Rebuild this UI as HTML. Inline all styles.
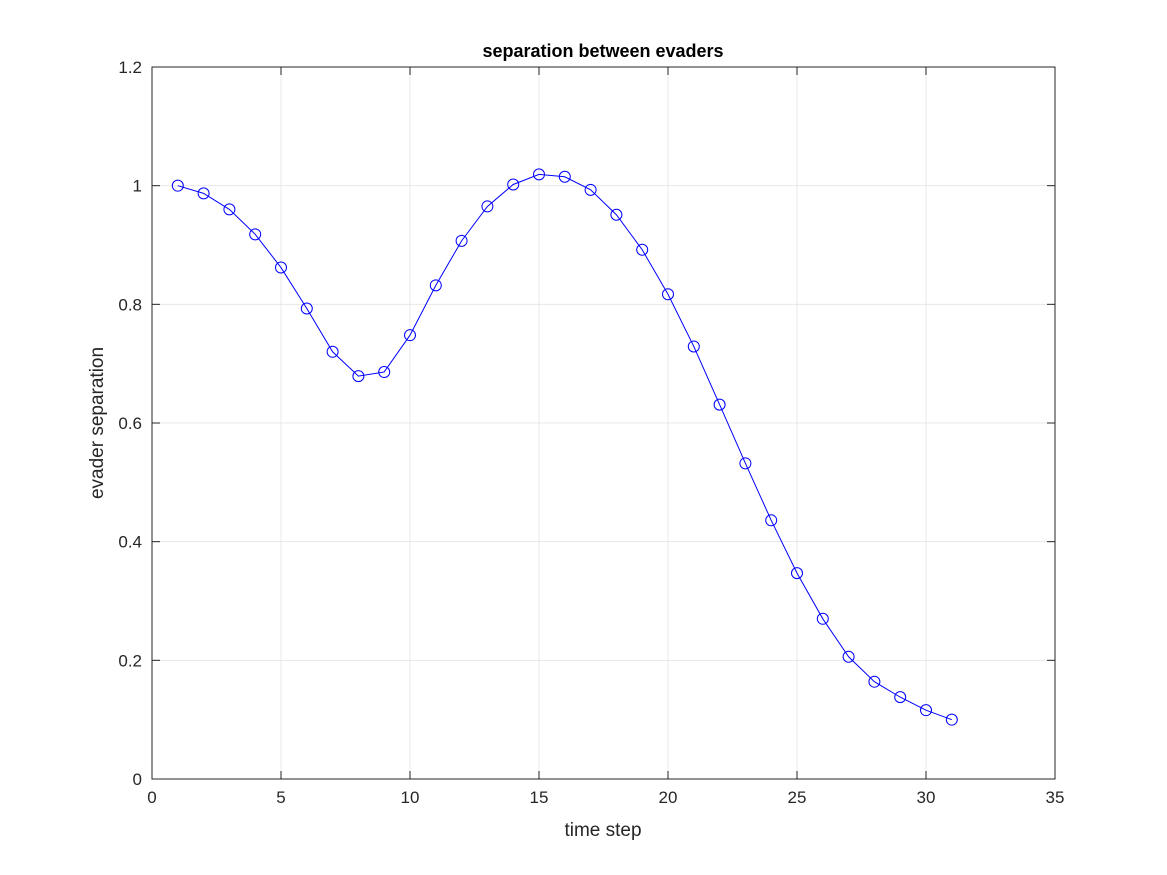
<!DOCTYPE html>
<html><head><meta charset="utf-8"><style>
body{margin:0;background:#fff;}
svg{display:block;font-family:"Liberation Sans",sans-serif;}
</style></head><body>
<svg id="chart" width="1167" height="875">
<rect x="0" y="0" width="1167" height="875" fill="#fff"/>
<g id="grid"></g>
<g id="ticks"></g>
<rect x="152" y="67" width="903" height="712" fill="none" stroke="#262626" stroke-width="1"/>
<g id="series"></g>
<text x="603" y="57" text-anchor="middle" font-size="18" font-weight="bold" fill="#000">separation between evaders</text>
<text x="603" y="836" text-anchor="middle" font-size="19" fill="#262626">time step</text>
<text transform="translate(103,423) rotate(-90)" text-anchor="middle" font-size="19" fill="#262626">evader separation</text>
</svg>
<script>
const steps=[1,2,3,4,5,6,7,8,9,10,11,12,13,14,15,16,17,18,19,20,21,22,23,24,25,26,27,28,29,30,31];
const separation=[1.0,0.987,0.96,0.918,0.862,0.793,0.72,0.679,0.686,0.748,0.832,0.907,0.965,1.002,1.019,1.015,0.993,0.951,0.892,0.817,0.729,0.631,0.532,0.436,0.347,0.27,0.206,0.164,0.138,0.116,0.1];
const xTicks=[0,5,10,15,20,25,30,35];
const yTicks=[0,0.2,0.4,0.6,0.8,1,1.2];
const yTickLabels=["0","0.2","0.4","0.6","0.8","1","1.2"];
const NS="http://www.w3.org/2000/svg";
const L=152,R=1055,T=67,B=779;
const sx=v=>L+(v-0)/(35-0)*(R-L);
const sy=v=>B-(v-0)/(1.2-0)*(B-T);
function mk(tag,attrs,parent){const e=document.createElementNS(NS,tag);for(const k in attrs)e.setAttribute(k,attrs[k]);parent.appendChild(e);return e;}
const grid=document.getElementById('grid'),ticks=document.getElementById('ticks'),series=document.getElementById('series');
xTicks.forEach(t=>{
 const x=sx(t);
 const g=mk('line',{x1:x,x2:x,y1:T,y2:B,stroke:'#e3e3e3','stroke-width':0.8},grid);
 
 
 mk('line',{x1:x,x2:x,y1:B,y2:B-8,stroke:'#262626'},ticks);
 mk('line',{x1:x,x2:x,y1:T,y2:T+8,stroke:'#262626'},ticks);
 const tx=mk('text',{x:x,y:B+24,'text-anchor':'middle','font-size':17,fill:'#262626'},ticks);
 tx.textContent=t;
 
 
});
yTicks.forEach((t,i)=>{
 const y=sy(t);
 const g=mk('line',{x1:L,x2:R,y1:y,y2:y,stroke:'#e3e3e3','stroke-width':0.8},grid);
 
 
 mk('line',{x1:L,x2:L+8,y1:y,y2:y,stroke:'#262626'},ticks);
 mk('line',{x1:R,x2:R-8,y1:y,y2:y,stroke:'#262626'},ticks);
 const tx=mk('text',{x:L-10,y:y+6,'text-anchor':'end','font-size':17,fill:'#262626'},ticks);
 tx.textContent=yTickLabels[i];
 
 
});
const pts=steps.map((s,i)=>sx(s)+','+sy(separation[i])).join(' ');
const pl=mk('polyline',{points:pts,fill:'none',stroke:'#0000ff','stroke-width':1},series);


steps.forEach((s,i)=>{
 const c=mk('circle',{cx:sx(s),cy:sy(separation[i]),r:5.5,fill:'none',stroke:'#0000ff','stroke-width':1},series);
 
 
});
</script>
</body></html>
